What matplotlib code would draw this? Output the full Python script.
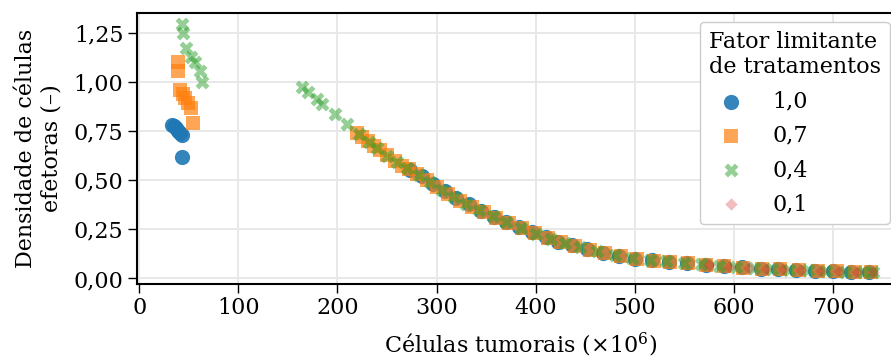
import matplotlib
matplotlib.use("Agg")
import matplotlib.pyplot as plt
from matplotlib.ticker import FuncFormatter

plt.rcParams['font.family'] = ['DejaVu Serif']
plt.rcParams['mathtext.fontset'] = 'dejavuserif'

# ---- data ----
labels = ["1,0", "0,7", "0,4", "0,1"]

x_10 = [33, 35, 37, 39, 41, 43, 43,
        273, 285, 296, 308, 320, 333, 345, 358, 370, 383,
        396, 410, 423, 437, 452, 468, 484, 500, 517, 535,
        553, 572, 590, 608, 627, 645, 663, 682, 700, 718, 736]
y_10 = [0.78, 0.775, 0.765, 0.75, 0.74, 0.73, 0.62,
        0.55, 0.52, 0.482, 0.445, 0.41, 0.377, 0.345, 0.315, 0.29, 0.262,
        0.235, 0.21, 0.188, 0.168, 0.148, 0.13, 0.115, 0.101, 0.092, 0.085,
        0.078, 0.07, 0.062, 0.056, 0.05, 0.047, 0.044, 0.04, 0.037, 0.034, 0.032]

x_07 = [39, 39, 41, 44, 46, 49, 52, 54,
        220, 225, 231, 237, 243, 250, 258, 265, 272, 280,
        290, 300, 312, 324, 336, 348, 360, 373, 386, 399,
        412, 426, 440, 455, 470, 486, 502, 519, 536, 554,
        572, 590, 609, 628, 647, 666, 685, 704, 722, 738]
y_07 = [1.10, 1.055, 0.96, 0.94, 0.92, 0.895, 0.87, 0.79,
        0.74, 0.72, 0.70, 0.675, 0.655, 0.63, 0.60, 0.575, 0.555, 0.53,
        0.50, 0.466, 0.43, 0.397, 0.366, 0.34, 0.31, 0.283, 0.256, 0.23,
        0.207, 0.185, 0.167, 0.147, 0.132, 0.115, 0.10, 0.091, 0.086, 0.078,
        0.07, 0.062, 0.055, 0.05, 0.046, 0.043, 0.039, 0.036, 0.034, 0.032]

x_04 = [43, 44, 47, 52, 56, 61, 63,
        164, 170, 179, 184, 198, 210, 222, 232, 240, 250,
        260, 270, 282, 293, 305, 318, 330, 343, 357, 370,
        385, 400, 415, 430, 445, 462, 480, 497, 515, 532,
        550, 567, 585, 602, 620, 638, 656, 675, 693, 712, 730, 740]
y_04 = [1.295, 1.25, 1.175, 1.13, 1.10, 1.055, 1.00,
        0.975, 0.95, 0.914, 0.888, 0.837, 0.786, 0.735, 0.695, 0.664, 0.625,
        0.593, 0.56, 0.525, 0.49, 0.45, 0.413, 0.38, 0.35, 0.318, 0.29,
        0.258, 0.228, 0.202, 0.18, 0.16, 0.14, 0.12, 0.104, 0.093, 0.087,
        0.08, 0.072, 0.064, 0.057, 0.052, 0.048, 0.045, 0.041, 0.038, 0.035, 0.033, 0.032]

x_01 = [575, 595, 615, 632, 650, 668, 688, 706, 724, 740]
y_01 = [0.069, 0.061, 0.053, 0.049, 0.046, 0.043, 0.039, 0.036, 0.034, 0.032]

x_ticks = [0, 100, 200, 300, 400, 500, 600, 700]
y_ticks = [0.0, 0.25, 0.5, 0.75, 1.0, 1.25]

# ---- figure ----
W, H = 891, 357
FS = 16
fig = plt.figure(figsize=(W / 100, H / 100), dpi=100)
x0, x1 = -2.6, 772
ppu = 0.991  # pixels per x unit
left_px, bottom_px, top_px = 136.7, 284.0, 12.7
ax = fig.add_axes([left_px / W, (H - bottom_px) / H,
                   (x1 - x0) * ppu / W, (bottom_px - top_px) / H])

series = [
    (x_10, y_10, 'o', '#1f77b4', 0.9, 120),
    (x_07, y_07, 's', '#ff7f0e', 0.7, 95),
    (x_04, y_04, 'X', '#2ca02c', 0.5, 100),
    (x_01, y_01, 'D', '#d62728', 0.3, 40),
]
for (xs, ys, m, c, a, s), lab in zip(series, labels):
    ax.scatter(xs, ys, marker=m, color=c, alpha=a, s=s,
               linewidths=0, label=lab, zorder=3)

ax.set_xlim(x0, x1)
ax.set_ylim(-0.028, 1.353)
ax.set_xticks(x_ticks)
ax.set_yticks(y_ticks)
ax.xaxis.set_major_formatter(FuncFormatter(lambda v, p: f"{v:.0f}"))
ax.yaxis.set_major_formatter(FuncFormatter(lambda v, p: f"{v:.2f}".replace('.', ',')))
ax.grid(True, color='#e8e8e8', linewidth=1.4, zorder=0)
ax.set_axisbelow(True)

for sp in ax.spines.values():
    sp.set_linewidth(1.5)
ax.tick_params(axis='both', which='major', labelsize=FS, length=6.5,
               width=1.0, direction='out', pad=3)

ax.set_xlabel(r"Células tumorais ($\times 10^6$)", fontsize=FS, labelpad=8)
ax.set_ylabel("Densidade de células\nefetoras (–)", fontsize=FS, labelpad=8)

leg = ax.legend(title="Fator limitante\nde tratamentos", fontsize=FS,
                title_fontsize=FS, loc='upper left',
                bbox_to_anchor=(700 / W, 1 - 22 / H),
                bbox_transform=fig.transFigure, borderaxespad=0,
                handletextpad=0.85, labelspacing=0.55, frameon=True,
                fancybox=True, framealpha=1.0, edgecolor='#cccccc')
leg._legend_box.align = "left"

fig.savefig("out.png", dpi=100)
